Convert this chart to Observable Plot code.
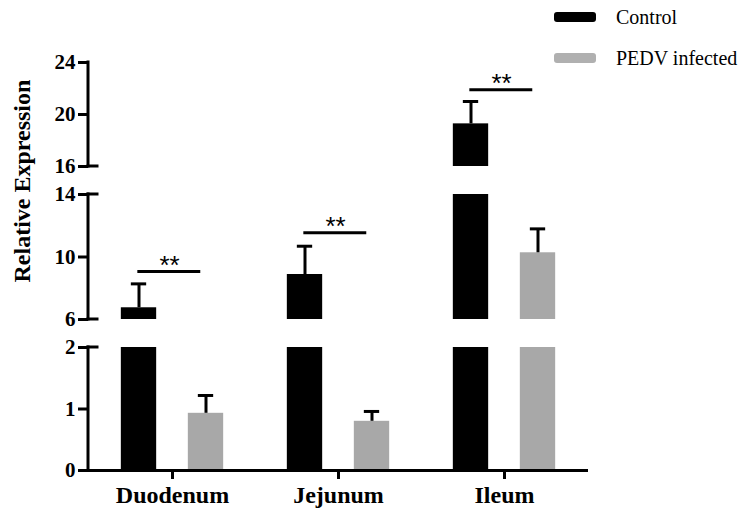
<!DOCTYPE html>
<html>
<head>
<meta charset="utf-8">
<script src="https://cdn.jsdelivr.net/npm/d3@7"></script>
<script src="https://cdn.jsdelivr.net/npm/@observablehq/plot@0.6"></script>
<style>
  body { margin: 0; padding: 0; font-family: "Liberation Serif", "Times New Roman", "DejaVu Serif", serif; }
  #wrap { position: relative; width: 748px; height: 523px; }
  .lrow { position: absolute; left: 554px; height: 24px; line-height: 24px; font-size: 20px; }
  .sw { position: absolute; left: 0; top: 7px; width: 42px; height: 10px; border-radius: 3px; }
  .lab { position: absolute; left: 62px; top: 0; white-space: nowrap; }
</style>
</head>
<body>
<div id="wrap"></div>
<script>
// ---- data ----
const categories = ["Duodenum", "Jejunum", "Ileum"];
const groups = ["Control", "PEDV infected"];
const controlMean = [6.75, 8.88, 19.28];
const controlSD   = [1.53, 1.81, 1.72];
const pedvMean    = [0.93, 0.80, 10.27];
const pedvSD      = [0.29, 0.16, 1.53];
const sigY        = [9.07, 11.55, 21.9];
const sigLabel    = ["**", "**", "**"];
const yTicks      = [0, 1, 2, 6, 10, 14, 16, 20, 24];
const ySegments   = [[0, 2], [6, 14], [16, 24]];
const colors      = {"Control": "#000000", "PEDV infected": "#a8a8a8"};

const SERIF = "Liberation Serif";
const SANS = "Liberation Sans";

// ---- layout ----
const W = 748, H = 523;
const mL = 88, mR = 160, mT = 40, mB = 53;
const segPx = [123, 125, 104];
const gapPx = 28;
const yDomain = [], yRange = [];
let cur = H - mB;
ySegments.forEach((s, i) => {
  yDomain.push(s[0], s[1]);
  yRange.push(cur, cur - segPx[i]);
  cur = cur - segPx[i] - gapPx;
});

const rows = [];
categories.forEach((c, i) => {
  rows.push({cat: c, group: "Control", mean: controlMean[i], sd: controlSD[i]});
  rows.push({cat: c, group: "PEDV infected", mean: pedvMean[i], sd: pedvSD[i]});
});
const pieces = [];
rows.forEach(r => ySegments.forEach(s => {
  if (r.mean > s[0]) pieces.push({...r, lo: s[0], hi: Math.min(r.mean, s[1])});
}));
const sig = categories.map((c, i) => ({cat: c, y: sigY[i], label: sigLabel[i]}));

const band = (W - mL - mR) / categories.length;
const barW = 36, offset = 33.5, capW = 16;
const barInset = (band - barW) / 2;
const capInset = (band - capW) / 2;

function groupMarks(g, dx) {
  const p = pieces.filter(d => d.group === g);
  const r = rows.filter(d => d.group === g);
  return [
    Plot.barY(p, {x: "cat", y1: "lo", y2: "hi", fill: colors[g], dx, insetLeft: barInset, insetRight: barInset}),
    Plot.ruleX(r, {x: "cat", y1: "mean", y2: d => d.mean + d.sd, dx, stroke: "#000", strokeWidth: 3}),
    Plot.tickY(r, {x: "cat", y: d => d.mean + d.sd, dx, stroke: "#000", strokeWidth: 3, insetLeft: capInset, insetRight: capInset})
  ];
}

const axisBreaks = (index, scales, values, dims) => {
  const g = d3.create("svg:g").attr("stroke", "#000").attr("stroke-width", 3).attr("stroke-linecap", "square");
  const x0 = dims.marginLeft;
  g.selectAll("line.seg").data(ySegments).join("line").attr("class", "seg")
    .attr("x1", x0).attr("x2", x0)
    .attr("y1", d => scales.y(d[0])).attr("y2", d => scales.y(d[1]));
  const caps = [];
  ySegments.forEach((s, i) => {
    if (i > 0) caps.push(s[0]);
    if (i < ySegments.length - 1) caps.push(s[1]);
  });
  g.selectAll("line.cap").data(caps).join("line").attr("class", "cap")
    .attr("x1", x0).attr("x2", x0 + 9)
    .attr("y1", d => scales.y(d)).attr("y2", d => scales.y(d));
  return g.node();
};

const chart = Plot.plot({
  width: W, height: H,
  marginLeft: mL, marginRight: mR, marginTop: mT, marginBottom: mB,
  x: {domain: categories, padding: 0, axis: null},
  y: {type: "linear", domain: yDomain, range: yRange, axis: null},
  style: {fontFamily: SERIF},
  marks: [
    ...groupMarks("Control", -offset),
    ...groupMarks("PEDV infected", offset),
    Plot.ruleY([0], {stroke: "#000", strokeWidth: 3}),
    Plot.axisX({tickSize: 9, strokeWidth: 3, tickPadding: 6, fontSize: 24, fontWeight: "bold", label: null, fill: "#000", fontFamily: SERIF}),
    Plot.axisY({ticks: yTicks, tickSize: 10, strokeWidth: 3, tickPadding: 3, fontSize: 21, fontWeight: "bold", label: null, tickFormat: d => String(d), fill: "#000", fontFamily: SERIF}),
    axisBreaks,
    Plot.tickY(sig, {x: "cat", y: "y", stroke: "#000", strokeWidth: 3, insetLeft: band / 2 - 35, insetRight: band / 2 - 28.6}),
    Plot.text(sig, {x: "cat", y: "y", text: "label", dx: -3, dy: 2, lineAnchor: "bottom", fontSize: 26, fill: "#000", fontFamily: SANS}),
    Plot.text(["Relative Expression"], {frameAnchor: "left", rotate: -90, dx: -66, dy: 27, fontSize: 24, fontWeight: "bold", fill: "#000", fontFamily: SERIF})
  ]
});

const wrap = document.getElementById("wrap");
wrap.appendChild(chart);
d3.select(chart).selectAll("text").each(function() {
  this.style.fontFamily = this.textContent === "**" ? SANS : SERIF;
});

const legendTops = [5, 46];
const swatchFill = ["#000000", "#b0b0b0"];
groups.forEach((g, i) => {
  const row = document.createElement("div");
  row.className = "lrow";
  row.style.top = legendTops[i] + "px";
  row.style.fontFamily = "'" + SERIF + "'";
  const sw = document.createElement("div");
  sw.className = "sw";
  sw.style.background = swatchFill[i];
  const lab = document.createElement("div");
  lab.className = "lab";
  lab.textContent = g;
  row.appendChild(sw); row.appendChild(lab);
  wrap.appendChild(row);
});
</script>
</body>
</html>
